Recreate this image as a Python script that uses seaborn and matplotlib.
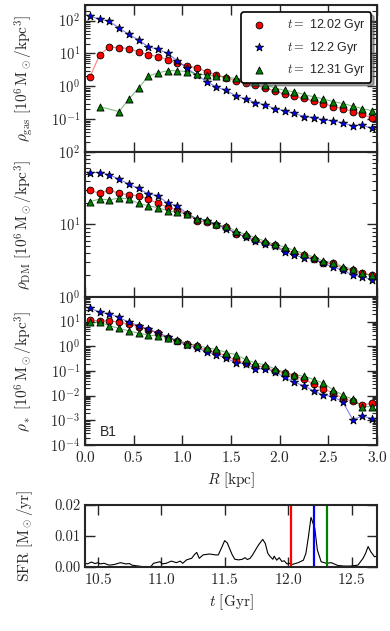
import pandas as pd
import matplotlib
matplotlib.use("Agg")
import matplotlib.pyplot as plt
from matplotlib.ticker import LogLocator, NullFormatter
import seaborn as sns

sns.set_style("ticks", {"xtick.direction": "in", "ytick.direction": "in"})
plt.rcParams['font.family'] = ['cmr10', 'DejaVu Serif']
plt.rcParams['mathtext.fontset'] = 'cm'
plt.rcParams['axes.formatter.use_mathtext'] = True
plt.rcParams['axes.unicode_minus'] = False

# ------------------- Data -------------------
radius = [0.05, 0.15, 0.25, 0.35, 0.45, 0.55, 0.65, 0.75, 0.85, 0.95,
          1.05, 1.15, 1.25, 1.35, 1.45, 1.55, 1.65, 1.75, 1.85, 1.95,
          2.05, 2.15, 2.25, 2.35, 2.45, 2.55, 2.65, 2.75, 2.85, 2.95]
radius_gas_late = [0.15, 0.35, 0.45, 0.55, 0.65, 0.75, 0.85, 0.95,
                   1.05, 1.15, 1.25, 1.35, 1.45, 1.55, 1.65, 1.75, 1.85, 1.95,
                   2.05, 2.15, 2.25, 2.35, 2.45, 2.55, 2.65, 2.75, 2.85, 2.95]

snap_labels = [r'$t=$ 12.02 Gyr', r'$t=$ 12.2 Gyr', r'$t=$ 12.31 Gyr']
snap_times = [12.02, 12.2, 12.31]

gas_1202 = [1.9, 9.1, 15.8, 15.1, 14.1, 11.2, 9.1, 8.1, 6.5, 5.0,
            4.3, 3.6, 2.8, 2.2, 1.85, 1.45, 1.26, 1.07, 0.89, 0.72,
            0.575, 0.50, 0.43, 0.355, 0.30, 0.24, 0.21, 0.17, 0.14, 0.107]
gas_1220 = [135, 112, 95, 60, 38, 26, 16, 13.5, 10, 6.0,
            3.5, 2.2, 1.4, 0.95, 0.76, 0.51, 0.41, 0.32, 0.27, 0.21,
            0.18, 0.15, 0.12, 0.112, 0.095, 0.089, 0.076, 0.063, 0.065, 0.052]
gas_1231 = [0.24, 0.17, 0.41, 0.89, 2.04, 2.57, 3.0, 3.0,
            2.8, 2.4, 2.2, 2.05, 1.9, 1.75, 1.62, 1.35, 1.12, 0.89,
            0.76, 0.68, 0.56, 0.48, 0.41, 0.34, 0.30, 0.25, 0.21, 0.18]

dm_1202 = [29.9, 26.8, 29.9, 26.8, 25.8, 25, 22.5, 19.5, 17.3, 15.9,
           14.0, 11.3, 10.8, 9.7, 9.2, 7.5, 6.85, 6.2, 5.5, 5.15,
           4.4, 4.05, 3.76, 3.39, 2.9, 2.9, 2.47, 2.34, 2.11, 2.0]
dm_1220 = [52, 52, 48.4, 42.3, 36, 31.4, 26.3, 25, 19.5, 18.2,
           14, 12, 11.3, 10, 8.7, 7.7, 6.7, 5.9, 5.4, 5.0,
           4.2, 3.76, 3.5, 3.3, 2.9, 2.6, 2.34, 2.0, 1.9, 1.74]
dm_1231 = [20.6, 22.5, 21.8, 23.2, 22.5, 19.5, 18.2, 17, 15.5, 14.7,
           14, 12, 11.5, 10, 9.4, 8.1, 7.3, 6.6, 5.9, 5.3,
           4.9, 4.4, 3.96, 3.56, 3.11, 2.99, 2.60, 2.44, 2.15, 1.98]

star_1202 = [11.9, 10.8, 10.8, 9.5, 7.9, 6.3, 4.6, 3.4, 2.24, 1.62,
             1.30, 1.0, 0.69, 0.59, 0.41, 0.27, 0.214, 0.166, 0.144, 0.104,
             0.083, 0.062, 0.047, 0.029, 0.018, 0.0133, 0.0076, 0.006, 0.0042, 0.0049]
star_1220 = [36, 23.9, 20.9, 14.8, 9.5, 6.9, 4.9, 3.6, 2.45, 1.62,
             1.11, 0.87, 0.59, 0.46, 0.34, 0.21, 0.195, 0.123, 0.123, 0.095,
             0.056, 0.035, 0.025, 0.0155, 0.0105, 0.0091, 0.0055, 0.00107, 0.00148, 0.00117]
star_1231 = [9.5, 9.5, 6.9, 5.4, 4.2, 3.4, 2.86, 2.7, 2.24, 1.78,
             1.30, 1.11, 0.87, 0.76, 0.56, 0.46, 0.295, 0.214, 0.178, 0.123,
             0.089, 0.069, 0.062, 0.045, 0.032, 0.017, 0.0105, 0.0071, 0.0036, 0.0036]

sfr_time = [10.40, 10.42, 10.45, 10.48, 10.50, 10.52, 10.55, 10.59, 10.63, 10.68,
            10.72, 10.75, 10.77, 10.82, 10.88, 10.92, 10.94, 10.99, 11.01, 11.04,
            11.08, 11.12, 11.15, 11.17, 11.20, 11.24, 11.26, 11.28, 11.30, 11.33,
            11.38, 11.43, 11.45, 11.48, 11.50, 11.52, 11.56, 11.58, 11.61, 11.64,
            11.66, 11.68, 11.70, 11.72, 11.75, 11.77, 11.80, 11.82, 11.84, 11.86,
            11.88, 11.89, 11.91, 11.93, 11.95, 11.97, 11.99, 12.01, 12.03, 12.08,
            12.12, 12.14, 12.16, 12.18, 12.21, 12.23, 12.26, 12.30, 12.34, 12.39,
            12.44, 12.49, 12.55, 12.59, 12.61, 12.63, 12.65, 12.68, 12.70]
sfr_rate = [0.0012, 0.0010, 0.0016, 0.0011, 0.0014, 0.0010, 0.0012, 0.0006, 0.0008, 0.0014,
            0.0010, 0.0011, 0.0006, 0.0003, 0.0000, 0.0002, 0.0012, 0.0017, 0.0010, 0.0012,
            0.0019, 0.0014, 0.0019, 0.0012, 0.0023, 0.0028, 0.0039, 0.0047, 0.0028, 0.0039,
            0.0042, 0.0039, 0.0039, 0.0066, 0.0085, 0.0078, 0.0039, 0.0025, 0.0023, 0.0025,
            0.0030, 0.0024, 0.0028, 0.0039, 0.0060, 0.0073, 0.0089, 0.0076, 0.0044, 0.0033,
            0.0025, 0.0035, 0.0022, 0.0030, 0.0018, 0.0020, 0.0010, 0.0012, 0.0008, 0.0014,
            0.0022, 0.0044, 0.0098, 0.0160, 0.0125, 0.0055, 0.0017, 0.0012, 0.0014, 0.0005,
            0.0003, 0.0003, 0.0006, 0.0028, 0.0044, 0.0066, 0.0050, 0.0033, 0.0035]

line_colors = ['r', 'b', 'g']
marker_shapes = ['o', '*', '^']
marker_sizes = [24, 38, 26]


def profile_frame(series, radii):
    rows = []
    for lab, r, v in zip(snap_labels, radii, series):
        rows.append(pd.DataFrame({'R': r, 'rho': v, 'snap': lab}))
    return pd.concat(rows, ignore_index=True)


def draw_profiles(ax, df, legend=False):
    for lab, col, mk, ms in zip(snap_labels, line_colors, marker_shapes, marker_sizes):
        sub = df[df['snap'] == lab]
        sns.lineplot(data=sub, x='R', y='rho', ax=ax, color=col, alpha=0.5,
                     lw=0.8, legend=False, sort=False)
        sns.scatterplot(data=sub, x='R', y='rho', ax=ax, color=col, marker=mk,
                        s=ms, edgecolor='k', linewidth=0.6, zorder=3,
                        label=lab if legend else None, legend=legend)
    ax.set_yscale('log')
    ax.set_xlim(0, 3)
    ax.set_xlabel('')


def style_axes(ax, log=False):
    for sp in ax.spines.values():
        sp.set_linewidth(1.5)
    if log:
        ax.yaxis.set_minor_locator(LogLocator(base=10, subs=range(2, 10), numticks=30))
        ax.yaxis.set_minor_formatter(NullFormatter())
    ax.tick_params(which='both', direction='in', top=True, right=True)
    ax.tick_params(which='major', length=7, width=1.0)
    ax.tick_params(which='minor', length=3.5, width=0.8)
    ax.tick_params(axis='y', labelsize=10.5)
    ax.tick_params(axis='x', labelsize=11)


fig = plt.figure(figsize=(3.9, 6.31), dpi=100)
W = 3.9 * 100
H = 6.31 * 100


def px_axes(x0, y0, x1, y1):
    return fig.add_axes([x0 / W, 1 - y1 / H, (x1 - x0) / W, (y1 - y0) / H])


ax_gas = px_axes(85, 5, 377, 152)
ax_dm = px_axes(85, 152, 377, 297)
ax_star = px_axes(85, 297, 377, 445)
ax_sfr = px_axes(85, 505, 377, 567)

gas_df = profile_frame([gas_1202, gas_1220, gas_1231], [radius, radius, radius_gas_late])
dm_df = profile_frame([dm_1202, dm_1220, dm_1231], [radius, radius, radius])
star_df = profile_frame([star_1202, star_1220, star_1231], [radius, radius, radius])

draw_profiles(ax_gas, gas_df, legend=True)
draw_profiles(ax_dm, dm_df)
draw_profiles(ax_star, star_df)

ax_gas.set_ylim(1e-2, 3e2)
ax_gas.set_yticks([1e-1, 1e0, 1e1, 1e2])
ax_dm.set_ylim(1, 100)
ax_dm.set_yticks([1e0, 1e1, 1e2])
ax_star.set_ylim(1e-4, 1e2)
ax_star.set_yticks([1e-4, 1e-3, 1e-2, 1e-1, 1e0, 1e1])

for ax in (ax_gas, ax_dm, ax_star):
    ax.set_xticks([0, 0.5, 1.0, 1.5, 2.0, 2.5, 3.0])
    style_axes(ax, log=True)
ax_gas.tick_params(labelbottom=False)
ax_dm.tick_params(labelbottom=False)

ax_gas.set_ylabel(r'$\rho_{\rm gas}\ [10^6\,{\rm M}_\odot/{\rm kpc}^3]$', fontsize=11)
ax_dm.set_ylabel(r'$\rho_{\rm DM}\ [10^6\,{\rm M}_\odot/{\rm kpc}^3]$', fontsize=11)
ax_star.set_ylabel(r'$\rho_*\ [10^6\,{\rm M}_\odot/{\rm kpc}^3]$', fontsize=11)
for ax in (ax_gas, ax_dm, ax_star):
    ax.yaxis.set_label_coords(-0.17, 0.5)
ax_star.set_xlabel(r'$R\ [{\rm kpc}]$', fontsize=11)

ax_star.text(0.05, 0.06, 'B1', transform=ax_star.transAxes,
             fontsize=10, family='Liberation Sans')

leg = ax_gas.legend(loc='upper right', bbox_to_anchor=(0.98, 0.95), borderaxespad=0,
                    prop={'family': 'Liberation Sans', 'size': 9}, scatterpoints=1,
                    handletextpad=1.3, labelspacing=0.5, borderpad=0.4,
                    fancybox=True, shadow=True, framealpha=1)
leg.get_frame().set_edgecolor('k')
leg.get_frame().set_linewidth(1.2)

# SFR history
sfr_df = pd.DataFrame({'t': sfr_time, 'sfr': sfr_rate})
sns.lineplot(data=sfr_df, x='t', y='sfr', ax=ax_sfr, color='k', lw=0.8, sort=False)
for tt, col in zip(snap_times, line_colors):
    ax_sfr.axvline(tt, color=col, lw=1.6)
ax_sfr.set_xlim(10.4, 12.7)
ax_sfr.set_ylim(0, 0.02)
ax_sfr.set_xticks([10.5, 11.0, 11.5, 12.0, 12.5])
ax_sfr.set_yticks([0.0, 0.01, 0.02])
ax_sfr.set_yticklabels(['0.00', '0.01', '0.02'])
style_axes(ax_sfr)
ax_sfr.set_xlabel(r'$t\ [{\rm Gyr}]$', fontsize=11)
ax_sfr.set_ylabel(r'${\rm SFR}\ [{\rm M}_\odot/{\rm yr}]$', fontsize=11)
ax_sfr.yaxis.set_label_coords(-0.17, 0.5)

fig.savefig('out.png', dpi=100)
